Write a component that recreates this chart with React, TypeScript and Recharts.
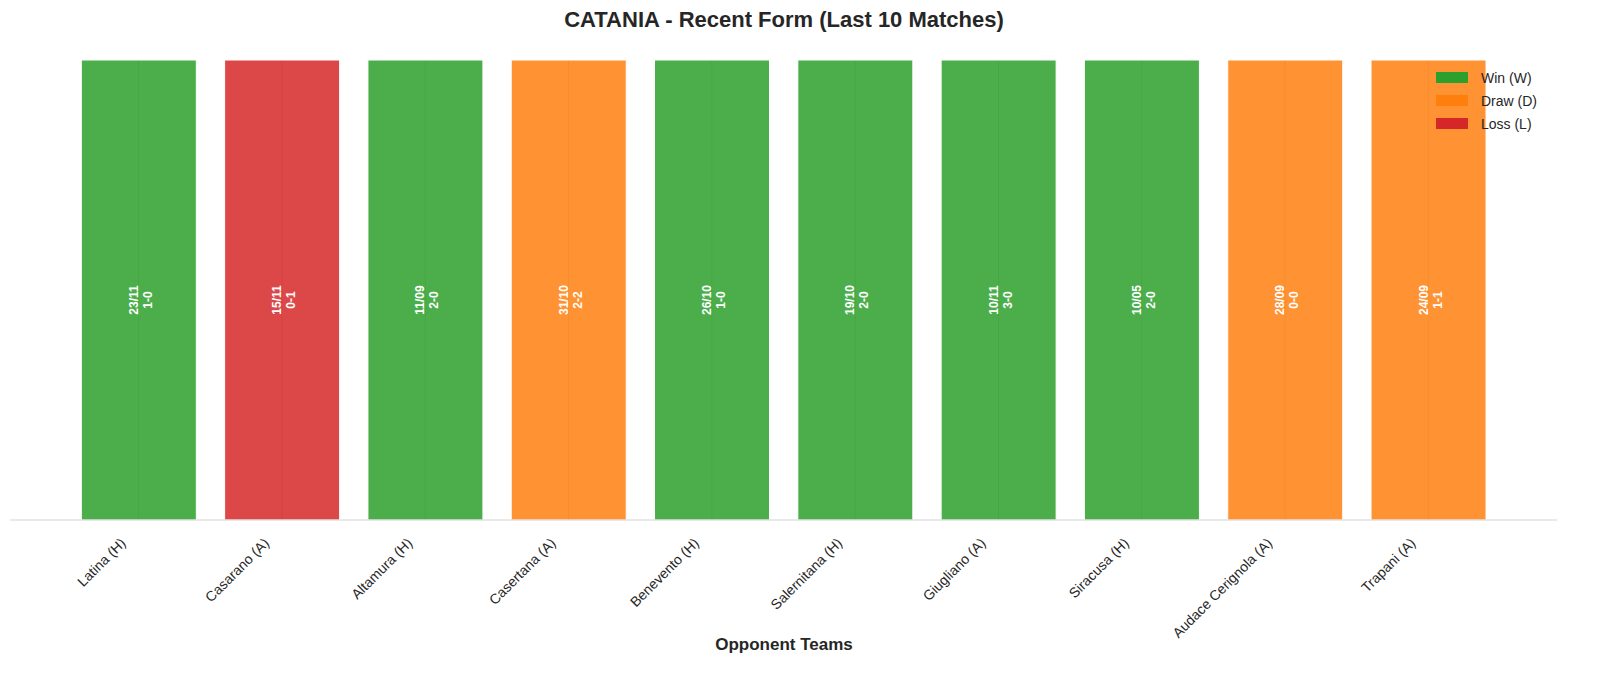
import React from "react";
import {
  BarChart,
  Bar,
  Cell,
  XAxis,
  YAxis,
  CartesianGrid,
  LabelList,
} from "recharts";

const opponents = [
  "Latina (H)",
  "Casarano (A)",
  "Altamura (H)",
  "Casertana (A)",
  "Benevento (H)",
  "Salernitana (H)",
  "Giugliano (A)",
  "Siracusa (H)",
  "Audace Cerignola (A)",
  "Trapani (A)",
];
const results = ["W", "L", "W", "D", "W", "W", "W", "W", "D", "D"];
const dates = ["23/11", "15/11", "11/09", "31/10", "26/10", "19/10", "10/11", "10/05", "28/09", "24/09"];
const scores = ["1-0", "0-1", "2-0", "2-2", "1-0", "2-0", "3-0", "2-0", "0-0", "1-1"];

const legendItems = [
  { key: "W", label: "Win (W)" },
  { key: "D", label: "Draw (D)" },
  { key: "L", label: "Loss (L)" },
];

const resultColors: Record<string, string> = {
  W: "#2ca02c",
  D: "#ff7f0e",
  L: "#d62728",
};

const data = opponents.map((name, i) => ({
  name,
  result: results[i],
  value: 1,
  label: dates[i] + "\n" + scores[i],
}));

const FONT = '"Liberation Sans", Arial, sans-serif';

const AngledTick = (props: any) => {
  const { x, y, payload } = props;
  const ax = x - 12;
  const ay = y + 16;
  return (
    <text
      x={ax}
      y={ay}
      textAnchor="end"
      fontSize={14}
      fontFamily={FONT}
      fill="#262626"
      transform={`rotate(-45, ${ax}, ${ay})`}
    >
      {payload.value}
    </text>
  );
};

const BarText = (props: any) => {
  const { x, y, width, height, value } = props;
  const [date, score] = String(value).split("\n");
  const cx = x + width / 2;
  const cy = y + height / 2 + 10;
  return (
    <g>
      {[
        [date, cx - 5],
        [score, cx + 9],
      ].map(([t, px]) => (
        <text
          key={String(t)}
          x={px as number}
          y={cy}
          textAnchor="middle"
          dominantBaseline="central"
          fontSize={12}
          fontWeight="bold"
          fontFamily={FONT}
          fill="#ffffff"
          transform={`rotate(-90, ${px}, ${cy})`}
        >
          {t}
        </text>
      ))}
    </g>
  );
};

export default function App() {
  return (
    <div style={{ position: "absolute", left: 0, top: 0, width: 1600, height: 679, background: "#fff" }}>
      <div
        style={{
          position: "absolute",
          top: 7,
          left: 0,
          width: 1568,
          textAlign: "center",
          fontFamily: FONT,
          fontWeight: "bold",
          fontSize: 22,
          color: "#262626",
        }}
      >
        CATANIA - Recent Form (Last 10 Matches)
      </div>
      <BarChart
        width={1600}
        height={679}
        data={data}
        barCategoryGap="10%"
        margin={{ top: 60, right: 43, left: 10, bottom: 39 }}
      >
        <CartesianGrid horizontal={false} stroke="#d0d0d0" syncWithTicks />
        <XAxis
          dataKey="name"
          interval={0}
          height={120}
          tickLine={false}
          axisLine={{ stroke: "#d3d3d3" }}
          padding={{ left: 57, right: 57 }}
          tick={<AngledTick />}
        />
        <YAxis hide domain={[0, 1]} />
        <Bar
          dataKey="value"
          fillOpacity={0.85}
          stroke="#ffffff"
          strokeWidth={1}
          isAnimationActive={false}
        >
          {data.map((d, i) => (
            <Cell key={i} fill={resultColors[d.result]} />
          ))}
          <LabelList dataKey="label" content={<BarText />} />
        </Bar>
      </BarChart>
      <div
        style={{
          position: "absolute",
          top: 66,
          left: 1436,
          fontFamily: FONT,
          fontSize: 14,
          color: "#262626",
        }}
      >
        {legendItems.map((item) => (
          <div key={item.key} style={{ display: "flex", alignItems: "center", height: 23 }}>
            <span
              style={{
                display: "inline-block",
                width: 32,
                height: 11,
                background: resultColors[item.key],
                marginRight: 13,
              }}
            />
            {item.label}
          </div>
        ))}
      </div>
      <div
        style={{
          position: "absolute",
          top: 635,
          left: 0,
          width: 1568,
          textAlign: "center",
          fontFamily: FONT,
          fontWeight: "bold",
          fontSize: 17,
          color: "#262626",
        }}
      >
        Opponent Teams
      </div>
    </div>
  );
}
